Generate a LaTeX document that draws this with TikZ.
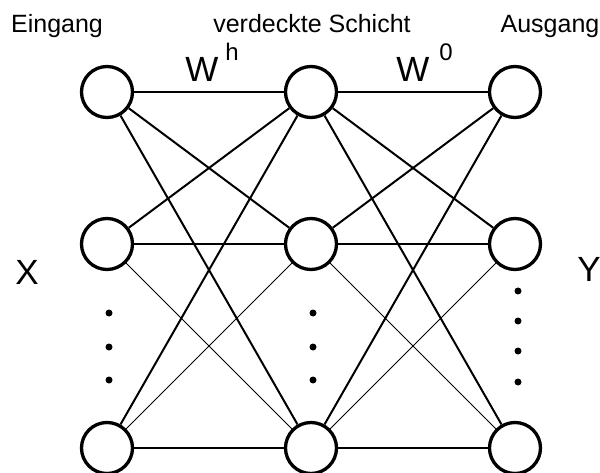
\documentclass[tikz,border=0pt]{standalone}
\usepackage{fontspec}
\setmainfont{Liberation Sans}
\begin{document}
\begin{tikzpicture}[x=1pt,y=-1pt,
  neuron/.style={circle,draw,line width=3.3pt,minimum size=51pt,inner sep=0pt,fill=white},
  heavy/.style={line width=2pt},
  light/.style={line width=1pt},
  dotmark/.style={circle,fill,inner sep=0pt,minimum size=7pt},
  layerlabel/.style={font=\fontsize{25}{30}\selectfont,anchor=base},
  biglabel/.style={font=\fontsize{35}{40}\selectfont,anchor=base},
  suplabel/.style={font=\fontsize{24}{28}\selectfont,anchor=base}]
\useasboundingbox (0,0) rectangle (600,473);

% layer titles
\node[layerlabel] (tin)  at (57,33)  {Eingang};
\node[layerlabel] (thid) at (312,33) {verdeckte Schicht};
\node[layerlabel] (tout) at (550,33) {Ausgang};

% input / output labels
\node[biglabel] (lx) at (27,285) {X};
\node[biglabel] (ly) at (589,281) {Y};

% weight labels
\node[biglabel] (w1) at (202,82) {W};
\node[suplabel] (s1) at (232,61) {h};
\node[biglabel] (w2) at (413,82) {W};
\node[suplabel] (s2) at (446,61) {0};

% neurons
\node[neuron] (i1) at (107,92)  {};
\node[neuron] (i2) at (107,244) {};
\node[neuron] (i3) at (107,448) {};
\node[neuron] (h1) at (311,92)  {};
\node[neuron] (h2) at (311,244) {};
\node[neuron] (h3) at (311,448) {};
\node[neuron] (o1) at (515,92)  {};
\node[neuron] (o2) at (515,244) {};
\node[neuron] (o3) at (515,448) {};

% input -> hidden weights
\draw[heavy] (i1) -- (h1);
\draw[heavy] (i1) -- (h2);
\draw[heavy] (i1) -- (h3);
\draw[heavy] (i2) -- (h1);
\draw[heavy] (i2) -- (h2);
\draw[light] (i2) -- (h3);
\draw[heavy] (i3) -- (h1);
\draw[light] (i3) -- (h2);
\draw[heavy] (i3) -- (h3);

% hidden -> output weights
\draw[heavy] (h1) -- (o1);
\draw[heavy] (h1) -- (o2);
\draw[heavy] (h1) -- (o3);
\draw[heavy] (h2) -- (o1);
\draw[heavy] (h2) -- (o2);
\draw[light] (h2) -- (o3);
\draw[heavy] (h3) -- (o1);
\draw[light] (h3) -- (o2);
\draw[heavy] (h3) -- (o3);

% ellipsis dots
\node[dotmark] (di1) at (109,313) {};
\node[dotmark] (di2) at (109,347) {};
\node[dotmark] (di3) at (109,380) {};
\node[dotmark] (dh1) at (313,313) {};
\node[dotmark] (dh2) at (313,347) {};
\node[dotmark] (dh3) at (313,380) {};
\node[dotmark] (do1) at (518,291) {};
\node[dotmark] (do2) at (518,321) {};
\node[dotmark] (do3) at (518,351) {};
\node[dotmark] (do4) at (518,382) {};
\end{tikzpicture}
\end{document}
